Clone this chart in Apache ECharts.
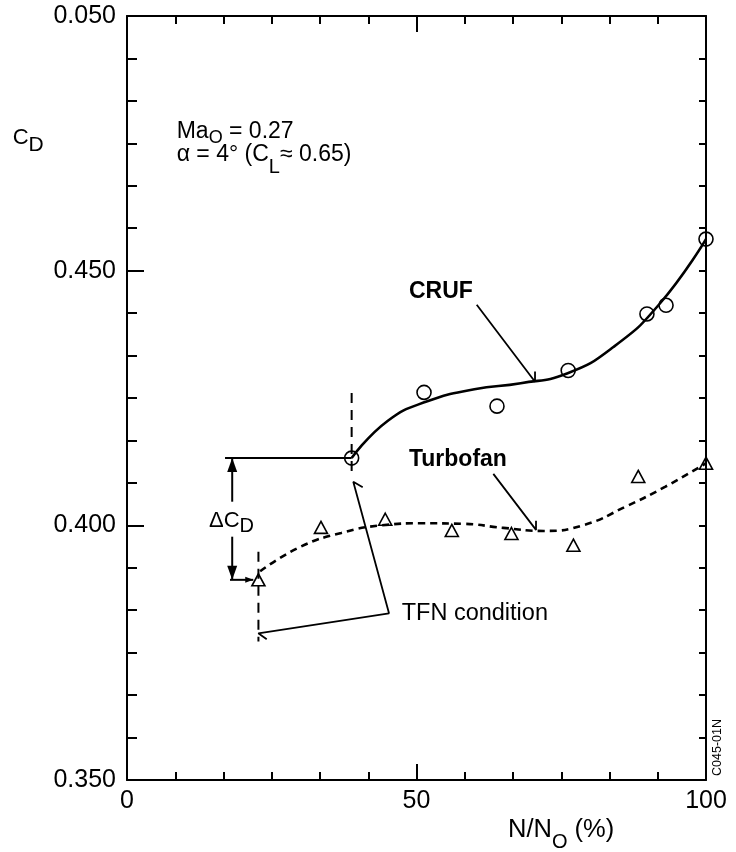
<!DOCTYPE html>
<html>
<head>
<meta charset="utf-8">
<script src="https://cdn.jsdelivr.net/npm/echarts@6/dist/echarts.min.js"></script>
<style>
  html, body { margin: 0; padding: 0; background: #fff; }
  #chart { width: 736px; height: 852px; }
</style>
</head>
<body>
<div id="chart"></div>
<script>
// Drag coefficient vs. relative engine speed N/N0 (%)
const crufN  = [38.8, 51.3, 63.9, 76.2, 89.8, 93.1, 100];
const crufCD = [0.4132, 0.4261, 0.4234, 0.4304, 0.4415, 0.4432, 0.4562];

const tfanN  = [22.7, 33.5, 44.6, 56.1, 66.4, 77.1, 88.3, 100];
const tfanCD = [0.3893, 0.3996, 0.4012, 0.3990, 0.3984, 0.3961, 0.4096, 0.4122];

// Faired curves through the measurements
const crufFitN  = [38.8, 45, 52, 60, 68, 76, 84, 92, 100];
const crufFitCD = [0.4132, 0.4205, 0.4244, 0.4267, 0.4279, 0.4298, 0.4350, 0.4435, 0.4562];

const tfanFitN  = [23, 30, 37, 44, 51, 58, 65, 72, 79, 86, 93, 100];
const tfanFitCD = [0.3910, 0.3958, 0.3985, 0.4000, 0.4004, 0.4003, 0.3995, 0.3989, 0.4001, 0.4036, 0.4076, 0.4122];

// Axis tick labels
const xTicks = [0, 50, 100];
const xTickLabels = ['0', '50', '100'];
const yTicks = [0.35, 0.40, 0.45, 0.50];
const yTickLabels = ['0.350', '0.400', '0.450', '0.050'];

// Annotation geometry, in data units (N/N0 %, CD)
const crufLeader = [[60.4, 0.4433], [70.47, 0.4282], [70.47, 0.4302]];
const tfanLeader = [[63.27, 0.4101], [70.64, 0.3991], [70.64, 0.4009]];
const tfnLeader  = [[40.71, 0.40747], [39.08, 0.40857], [45.25, 0.38273], [22.68, 0.37880], [24.13, 0.37763]];
const crufOnset  = [[38.8, 0.4260], [38.8, 0.4096]];
const tfanOnset  = [[22.7, 0.3948], [22.7, 0.3772]];
const deltaTop    = [[16.93, crufCD[0]], [crufN[0], crufCD[0]]];
const deltaBottom = [[17.79, tfanCD[0]], [21.81, tfanCD[0]]];
const deltaUp     = [[18.17, 0.40464], [18.17, crufCD[0]]];
const deltaDown   = [[18.17, 0.39777], [18.17, tfanCD[0]]];

// Text notes: rich-text strings and their top-left anchors
const noteText = [
  '{bold|CRUF}',
  '{bold|Turbofan}',
  '{reg|TFN condition}',
  '{dl|\u0394C}{dls|D}',
  '{m|Ma}{ms|O}{m| = 0.27}',
  '{m|\u03b1 = 4\u00b0 (C}{ls|L}{m|\u2248 0.65)}'
];
const noteAt = [[48.70, 0.44817], [48.70, 0.41523], [47.44, 0.38499], [14.16, 0.40311], [8.58, 0.47949], [8.58, 0.47494]];

const FONT = '"Liberation Sans", Arial, Helvetica, sans-serif';
const INK = '#000';

const pairs = (xs, ys) => xs.map((x, i) => [x, ys[i]]);
const labelFor = (ticks, labels) => v => {
  const i = ticks.findIndex(t => Math.abs(t - v) < 1e-6);
  return i >= 0 ? labels[i] : '';
};

function tok(size, extra) {
  return Object.assign({ fontSize: size, fontFamily: FONT, color: INK, verticalAlign: 'top' }, extra || {});
}
const noteRich = {
  bold: tok(23, { fontWeight: 'bold' }),
  reg: tok(23.5),
  dl: tok(22),
  dls: tok(20, { padding: [7, 0, 0, 0] }),
  m: tok(23),
  ms: tok(18, { padding: [8.8, 0, 0, 0] }),
  ls: tok(20, { padding: [13.8, 0, 0, 0] })
};

function segment(data, width, type) {
  return {
    type: 'line', data: data, symbol: 'none', smooth: false, silent: true,
    lineStyle: { color: INK, width: width, type: type || 'solid' }, z: 4
  };
}

function axisX(position, showLabel) {
  return {
    type: 'value', position: position, min: 0, max: 100, interval: 50,
    axisLine: { show: true, onZero: false, lineStyle: { color: INK, width: 2 } },
    axisTick: { show: true, inside: true, length: 16, lineStyle: { color: INK, width: 2 } },
    minorTick: { show: true, splitNumber: 6, length: 8, lineStyle: { color: INK, width: 2 } },
    axisLabel: {
      show: showLabel, margin: 9, fontSize: 25, color: INK, fontFamily: FONT,
      showMinLabel: true, showMaxLabel: true, formatter: labelFor(xTicks, xTickLabels)
    },
    splitLine: { show: false }, minorSplitLine: { show: false }
  };
}
function axisY(position, showLabel, majorLen, minorLen) {
  return {
    type: 'value', position: position, min: 0.35, max: 0.50, interval: 0.05,
    axisLine: { show: true, onZero: false, lineStyle: { color: INK, width: 2 } },
    axisTick: { show: true, inside: true, length: majorLen, lineStyle: { color: INK, width: 2 } },
    minorTick: { show: true, splitNumber: 6, length: minorLen, lineStyle: { color: INK, width: 2 } },
    axisLabel: {
      show: showLabel, margin: 11, fontSize: 25, color: INK, fontFamily: FONT,
      showMinLabel: true, showMaxLabel: true, formatter: labelFor(yTicks, yTickLabels)
    },
    splitLine: { show: false }, minorSplitLine: { show: false }
  };
}

const chart = echarts.init(document.getElementById('chart'), null, { renderer: 'canvas' });

chart.setOption({
  backgroundColor: '#fff',
  animation: false,
  textStyle: { fontFamily: FONT, color: INK },
  grid: { left: 127, right: 30, top: 16, bottom: 72, containLabel: false, outerBoundsMode: 'none' },
  xAxis: [axisX('bottom', true), axisX('top', false)],
  yAxis: [axisY('left', true, 17, 10), axisY('right', false, 7, 7)],
  series: [
    // faired curves
    {
      name: 'CRUF fit', type: 'line', data: pairs(crufFitN, crufFitCD), symbol: 'none',
      smooth: true, silent: true,
      lineStyle: { color: INK, width: 2.6 }, z: 3
    },
    {
      name: 'Turbofan fit', type: 'line', data: pairs(tfanFitN, tfanFitCD), symbol: 'none',
      smooth: true, silent: true,
      lineStyle: { color: INK, width: 2.6, type: [7, 5] }, z: 3
    },
    // annotation lines
    segment(crufLeader, 1.8),
    segment(tfanLeader, 1.8),
    segment(tfnLeader, 1.8),
    segment(crufOnset, 2, [10, 7]),
    segment(tfanOnset, 2, [10, 7]),
    segment(deltaTop, 2),
    segment(deltaBottom, 2),
    segment(deltaUp, 2),
    segment(deltaDown, 2),
    // arrow heads of the delta-CD dimension
    {
      type: 'scatter', silent: true, z: 5,
      itemStyle: { color: INK, opacity: 1 },
      data: [
        { value: deltaUp[1], symbol: 'triangle', symbolSize: [10, 14], symbolOffset: [0, 7] },
        { value: deltaDown[1], symbol: 'triangle', symbolSize: [10, 14], symbolRotate: 180, symbolOffset: [0, -7] },
        { value: deltaBottom[1], symbol: 'triangle', symbolSize: [6, 8], symbolRotate: -90, symbolOffset: [-4, 0] }
      ]
    },
    // measurements
    {
      name: 'CRUF', type: 'scatter', data: pairs(crufN, crufCD), symbol: 'circle', symbolSize: 14,
      silent: true, z: 6,
      itemStyle: { color: 'rgba(0,0,0,0)', borderColor: INK, borderWidth: 1.6, opacity: 1 }
    },
    {
      name: 'Turbofan', type: 'scatter', data: pairs(tfanN, tfanCD), symbol: 'triangle', symbolSize: [13, 12],
      silent: true, z: 6,
      itemStyle: { color: 'rgba(0,0,0,0)', borderColor: INK, borderWidth: 1.6, opacity: 1 }
    },
    // text notes
    {
      type: 'scatter', symbolSize: 0, silent: true, z: 7,
      data: noteAt.map((p, i) => ({
        value: p,
        label: {
          show: true, position: [0, 0], align: 'left', verticalAlign: 'top',
          color: INK, opacity: 1, textBorderWidth: 0,
          formatter: () => noteText[i], rich: noteRich
        }
      }))
    }
  ],
  graphic: [
    {
      type: 'text', x: 12.7, y: 126.7, silent: true,
      style: {
        text: '{c|C}{s|D}', align: 'left', verticalAlign: 'top', fill: INK,
        rich: {
          c: { fontSize: 22, fontFamily: FONT, fill: INK, verticalAlign: 'top' },
          s: { fontSize: 21, fontFamily: FONT, fill: INK, verticalAlign: 'top', padding: [8.3, 0, 0, 0] }
        }
      }
    },
    {
      type: 'text', x: 508, y: 816.8, silent: true,
      style: {
        text: '{c|N/N}{s|O}{c| (%)}', align: 'left', verticalAlign: 'top', fill: INK,
        rich: {
          c: { fontSize: 25.5, fontFamily: FONT, fill: INK, verticalAlign: 'top' },
          s: { fontSize: 20, fontFamily: FONT, fill: INK, verticalAlign: 'top', padding: [15.7, 0, 0, 0] }
        }
      }
    },
    {
      type: 'text', x: 718, y: 747.5, rotation: Math.PI / 2, silent: true,
      style: {
        text: 'C045-01N', fontSize: 12.5, fontFamily: FONT, fill: INK,
        align: 'center', verticalAlign: 'middle'
      }
    }
  ]
});
</script>
</body>
</html>
